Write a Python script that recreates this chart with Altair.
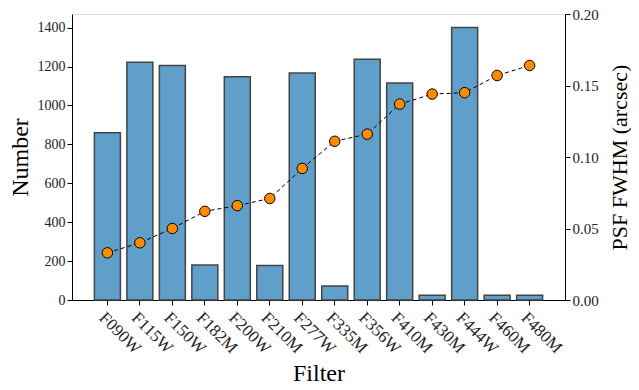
import altair as alt
import pandas as pd

filters = ["F090W", "F115W", "F150W", "F182M", "F200W", "F210M", "F277W",
           "F335M", "F356W", "F410M", "F430M", "F444W", "F460M", "F480M"]
numbers = [860, 1222, 1205, 180, 1147, 177, 1167, 72, 1238, 1115, 25, 1400, 25, 25]
fwhm = [0.033, 0.040, 0.050, 0.062, 0.066, 0.071, 0.092,
        0.111, 0.116, 0.137, 0.144, 0.145, 0.157, 0.164]

df = pd.DataFrame({"Filter": filters, "Number": numbers, "FWHM": fwhm})

FONT = "Liberation Serif"

xenc = alt.X("Filter:N", sort=filters,
             scale=alt.Scale(paddingInner=0.2, paddingOuter=0.69),
             axis=alt.Axis(title="Filter", labelAngle=45, labelAlign="left",
                           labelBaseline="top", labelFontSize=17, titleFontSize=24,
                           titleFontWeight="normal", labelFont=FONT, titleFont=FONT,
                           tickColor="black", domainColor="black", labelColor="#222",
                           tickSize=5, labelPadding=4,
                           titleX=246.5, titleY=80, titleBaseline="alphabetic",
                           titleAlign="center"))

bars = alt.Chart(df).mark_bar(color="#5f9fca", stroke="#444444", strokeWidth=1.5,
                              opacity=1).encode(
    x=xenc,
    y=alt.Y("Number:Q", scale=alt.Scale(domain=[0, 1470], nice=False),
            axis=alt.Axis(title="Number", values=[0, 200, 400, 600, 800, 1000, 1200, 1400],
                          format="d",
                          labelFontSize=14, titleFontSize=24, titleFontWeight="normal",
                          labelFont=FONT, titleFont=FONT, grid=False, tickColor="black",
                          domainColor="black", labelColor="#222", tickSize=5,
                          titleX=-52, titleY=143, titleAngle=270,
                          titleBaseline="middle", titleAlign="center"))
)

line = alt.Chart(df).mark_line(color="black", strokeDash=[4, 3], strokeWidth=1).encode(
    x=alt.X("Filter:N", sort=filters),
    y=alt.Y("FWHM:Q", scale=alt.Scale(domain=[0, 0.2], nice=False),
            axis=alt.Axis(title="PSF FWHM (arcsec)", orient="right", format=".2f",
                          values=[0, 0.05, 0.1, 0.15, 0.2], titleAngle=270,
                          labelFontSize=15, titleFontSize=22, titleFontWeight="normal",
                          labelFont=FONT, titleFont=FONT, grid=False, tickColor="black",
                          domainColor="black", labelColor="#222", tickSize=5,
                          titleX=54, titleY=143, titleBaseline="middle",
                          titleAlign="center"))
)

pts = alt.Chart(df).mark_point(filled=True, fill="#ff8c00", stroke="black",
                               strokeWidth=1, size=110, opacity=1).encode(
    x=alt.X("Filter:N", sort=filters),
    y=alt.Y("FWHM:Q", scale=alt.Scale(domain=[0, 0.2], nice=False))
)

right = alt.layer(line, pts)

chart = alt.layer(bars, right).resolve_scale(y="independent").properties(
    width=493, height=286,
    autosize=alt.AutoSizeParams(type="none"),
    padding={"left": 64, "top": 6, "right": 66, "bottom": 88},
).configure_view(stroke="black", strokeWidth=1.2).configure(background="white")

chart.save("out.html", embed_options={"renderer": "svg", "actions": False})
